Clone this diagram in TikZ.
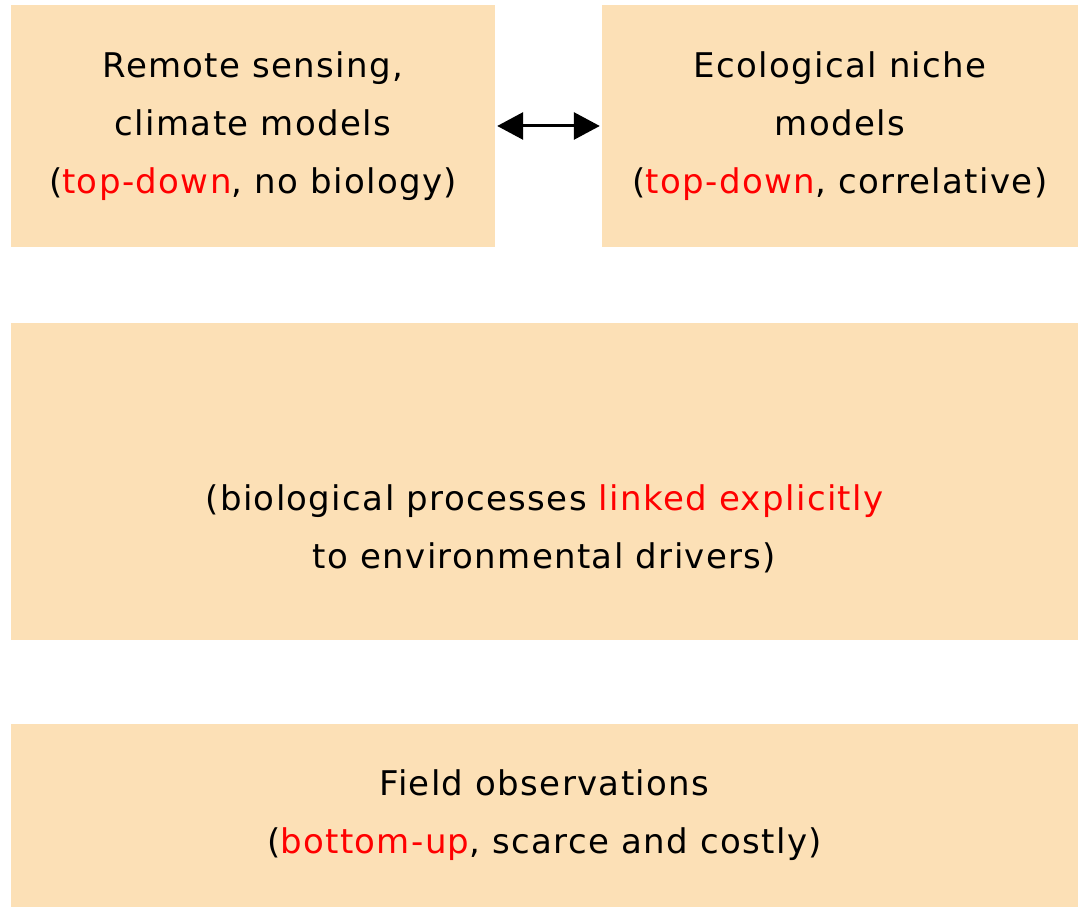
\documentclass[tikz,border=0pt]{standalone}
\usepackage{fontspec}
\setmainfont[LetterSpace=4]{DejaVu Sans}
\usetikzlibrary{arrows.meta}
\definecolor{boxfill}{RGB}{252,224,182}
\tikzset{
  panel/.style={fill=boxfill,draw=none,inner sep=0pt,align=center,
    font=\fontsize{34}{58}\selectfont},
  dblarrow/.style={line width=3pt,{Triangle[length=26pt,width=27pt]}-{Triangle[length=26pt,width=27pt]},shorten <=2pt,shorten >=2pt}
}
\newcommand{\hl}[1]{\textcolor{red}{#1}}
\begin{document}
\begin{tikzpicture}[x=1pt,y=1pt]
\useasboundingbox (0,0) rectangle (1080,907);

\node (rs) at (253,781) [panel,minimum width=484pt,minimum height=242pt]
  {Remote sensing,\\climate models\\(\hl{top-down}, no biology)};
\node (en) at (840,781) [panel,minimum width=476pt,minimum height=242pt]
  {Ecological niche\\models\\(\hl{top-down}, correlative)};
\draw[dblarrow] (rs.east) -- (en.west);

\node (pm) at (544.5,425.5) [panel,minimum width=1067pt,minimum height=317pt] {};
\node (pmtext) at ([yshift=-47pt]pm.center) [panel,fill=none]
  {(biological processes \hl{linked explicitly}\\to environmental drivers)};

\node (fo) at (544.5,91.5) [panel,minimum width=1067pt,minimum height=183pt]
  {Field observations\\(\hl{bottom-up}, scarce and costly)};

\end{tikzpicture}
\end{document}
